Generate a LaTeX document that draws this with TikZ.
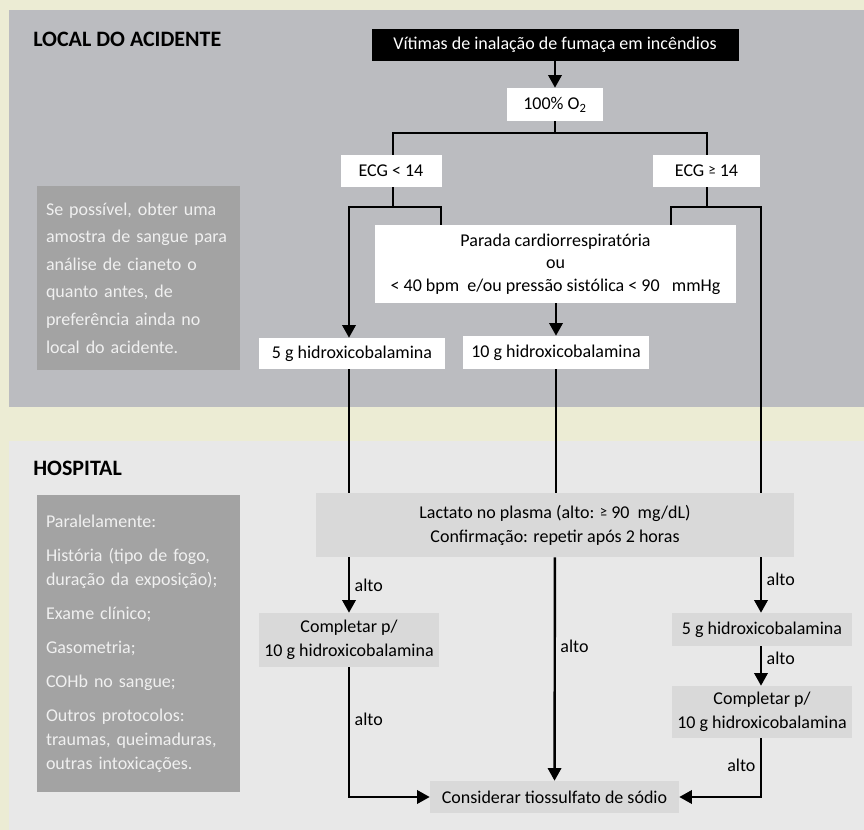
\documentclass[tikz,border=0pt]{standalone}
\usepackage{fontspec}
\setmainfont{Carlito}
\usepackage{xcolor}
\usetikzlibrary{arrows.meta,positioning,calc}

\definecolor{pagebg}{HTML}{ECECD4}
\definecolor{sitebg}{HTML}{BBBCC0}
\definecolor{hospbg}{HTML}{E8E8E8}
\definecolor{notebg}{HTML}{A3A3A3}
\definecolor{hboxbg}{HTML}{D9D9D9}

\newcommand{\geqmark}{\raisebox{1.5pt}{\fontsize{11}{11}\selectfont ≥}}

\begin{document}
\begin{tikzpicture}[x=0.75pt, y=-0.75pt,
    wblock/.style={rectangle, fill=white, inner sep=0pt, align=center, font=\fontsize{13.5}{17}\selectfont},
    gblock/.style={rectangle, fill=hboxbg, inner sep=0pt, align=center, font=\fontsize{13.5}{18}\selectfont},
    nblock/.style={rectangle, fill=notebg, inner sep=0pt, minimum width=152.25pt, text width=138.75pt, align=left, text=white!94!black},
    header/.style={anchor=west, inner sep=0pt, font=\fontsize{16.5}{20}\selectfont\bfseries},
    harrow/.style={-{Triangle[length=9.5pt, width=10pt]}, line width=1.8pt},
    hline/.style={line width=1.8pt},
    lbl/.style={font=\fontsize{13.5}{16}\selectfont}
  ]
    % Panels
    \fill[pagebg] (0,0) rectangle (864,830);
    \fill[sitebg] (9,10) rectangle (864,407);
    \fill[hospbg] (9,441) rectangle (864,830);
    \node[header] (hsite) at (33,39) {LOCAL DO ACIDENTE};
    \node[header] (hhosp) at (33,468) {HOSPITAL};

    % Side notes
    \node[nblock, minimum height=138pt, font=\fontsize{13.5}{20.7}\selectfont] (notesite) at (138.5,278) {Se possível, obter uma\\ amostra de sangue para\\ análise de cianeto o\\ quanto antes, de\\ preferência ainda no\\ local do acidente.};
    \node[nblock, minimum height=222.75pt, font=\fontsize{13.5}{18}\selectfont] (notehosp) at (138.5,643.5) {Paralelamente:\\[7.5pt] História (tipo de fogo,\\ duração da exposição);\\[7.5pt] Exame clínico;\\[7.5pt] Gasometria;\\[7.5pt] COHb no sangue;\\[7.5pt] Outros protocolos:\\ traumas, queimaduras,\\ outras intoxicações.};

    % Local do acidente
    \node[wblock, fill=black, text=white, minimum width=275.25pt, minimum height=24pt] (victims) at (555,45) {Vítimas de inalação de fumaça em incêndios};
    \node[wblock, minimum width=72pt, minimum height=24.75pt] (oxy) at (555,104.5) {100\% O\textsubscript{2}};
    \node[wblock, minimum width=75.75pt, minimum height=24pt] (ecglo) at (391,171) {ECG < 14};
    \node[wblock, minimum width=80.25pt, minimum height=24pt] (ecghi) at (706.5,171) {ECG \geqmark\ 14};
    \node[wblock, minimum width=270.75pt, minimum height=58.5pt] (arrest) at (555.5,264) {Parada cardiorrespiratória\\ ou\\ < 40 bpm\ \ e/ou pressão sistólica < 90\ \ \ mmHg};
    \node[wblock, minimum width=139.5pt, minimum height=23.25pt] (fiveg) at (352,353.5) {5 g hidroxicobalamina};
    \node[wblock, minimum width=139.5pt, minimum height=24.75pt] (teng) at (556,352.5) {10 g hidroxicobalamina};

    % Hospital
    \node[gblock, minimum width=358.5pt, minimum height=48pt] (lactate) at (555,525) {Lactato no plasma (alto: \geqmark\ 90\ \ mg/dL)\\ Confirmação: repetir após 2 horas};
    \node[gblock, minimum width=135pt, minimum height=40.5pt] (fillleft) at (349,640) {Completar p/\\ 10 g hidroxicobalamina};
    \node[gblock, minimum width=135pt, minimum height=24.75pt] (fivehosp) at (762,629.5) {5 g hidroxicobalamina};
    \node[gblock, minimum width=135pt, minimum height=39pt] (fillright) at (762,712) {Completar p/\\ 10 g hidroxicobalamina};
    \node[gblock, minimum width=186.75pt, minimum height=24pt] (thio) at (554.5,797) {Considerar tiossulfato de sódio};

    % Junctions
    \coordinate (jtop) at (555,133);
    \coordinate (jlo) at (393,207);
    \coordinate (jhi) at (707,207);
    \coordinate (lo1) at (349,207);
    \coordinate (lo2) at (441,207);
    \coordinate (hi1) at (671,207);
    \coordinate (hi2) at (761,207);

    \draw[harrow] (victims) -- (oxy);
    \draw[hline] (oxy) -- (jtop);
    \draw[hline] (jlo |- ecglo.north) |- (jtop) -| (jhi |- ecghi.north);
    \draw[hline] (jlo |- ecglo.south) -- (jlo);
    \draw[hline] (jhi |- ecghi.south) -- (jhi);
    \draw[harrow] (lo2 |- arrest.north) |- (lo1) -- (lo1 |- fiveg.north);
    \draw[hline] (hi1 |- arrest.north) |- (hi2) -- (hi2 |- lactate.north);
    \draw[harrow] (arrest.south -| teng) -- (teng);

    \draw[hline] (lo1 |- fiveg.south) -- (lo1 |- lactate.north);
    \draw[hline] (teng) -- (teng |- lactate.north);

    \draw[harrow] (lo1 |- lactate.south) -- node[lbl, right] {alto} (fillleft);
    \draw[harrow] (lactate) -- node[lbl, right, pos=0.4] {alto} (thio);
    \draw[harrow] (hi2 |- lactate.south) -- node[lbl, right, pos=0.4] {alto} (hi2 |- fivehosp.north);
    \draw[harrow] (hi2 |- fivehosp.south) -- node[lbl, right, pos=0.3] {alto} (hi2 |- fillright.north);
    \draw[harrow] (fillleft) |- node[lbl, right, pos=0.2] {alto} (thio);
    \draw[harrow] (hi2 |- fillright.south) |- node[lbl, left, pos=0.23] {alto} (thio);
  \end{tikzpicture}
\end{document}
